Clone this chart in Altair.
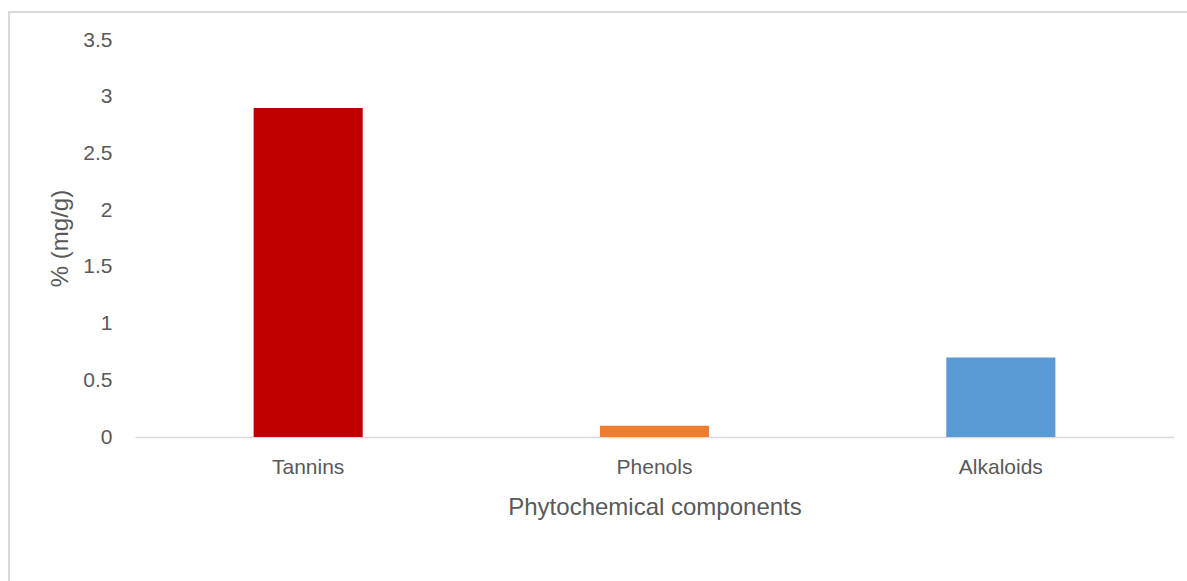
import altair as alt
import pandas as pd

categories = ["Tannins", "Phenols", "Alkaloids"]
values = [2.9, 0.1, 0.7]
colors = ["#C00000", "#ED7D31", "#5B9BD5"]

df = pd.DataFrame({"component": categories, "value": values, "color": colors})

FONT = "Liberation Sans"
TXT = "#595959"

bars = alt.Chart(df).mark_bar().encode(
    x=alt.X(
        "component:N",
        sort=categories,
        scale=alt.Scale(paddingInner=0.685, paddingOuter=0.3425),
        axis=alt.Axis(
            title="Phytochemical components",
            labelAngle=0,
            ticks=False,
            domain=True,
            domainColor="#d9d9d9",
            domainWidth=1.5,
            labelPadding=19,
            labelFontSize=21,
            labelColor=TXT,
            labelFont=FONT,
            titleFontSize=24,
            titleFont=FONT,
            titleColor=TXT,
            titleFontWeight="normal",
            titlePadding=18,
        ),
    ),
    y=alt.Y(
        "value:Q",
        scale=alt.Scale(domain=[0, 3.5]),
        axis=alt.Axis(
            title="% (mg/g)",
            values=[0, 0.5, 1, 1.5, 2, 2.5, 3, 3.5],
            format="~g",
            grid=False,
            domain=False,
            ticks=False,
            labelPadding=23,
            labelFontSize=21,
            labelColor=TXT,
            labelFont=FONT,
            titleFontSize=24,
            titleFont=FONT,
            titleColor=TXT,
            titleFontWeight="normal",
            titleX=-75,
            titleY=198,
            titleAngle=270,
            titleAlign="center",
            titleBaseline="middle",
        ),
    ),
    color=alt.Color("color:N", scale=None, legend=None),
)

border = alt.Chart(df).mark_rect(
    fill=None, stroke="#d9d9d9", strokeWidth=1.5
).encode(
    x=alt.value(-126),
    x2=alt.value(1060),
    y=alt.value(-28),
    y2=alt.value(550),
)

chart = (
    alt.layer(border, bars)
    .properties(
        width=1039,
        height=397,
        autosize=alt.AutoSizeParams(type="none"),
        padding={"left": 135, "top": 40, "right": 13, "bottom": 144},
        background="white",
    )
    .configure_view(stroke=None)
)

chart.save("out.html", embed_options={"renderer": "svg", "actions": False})
